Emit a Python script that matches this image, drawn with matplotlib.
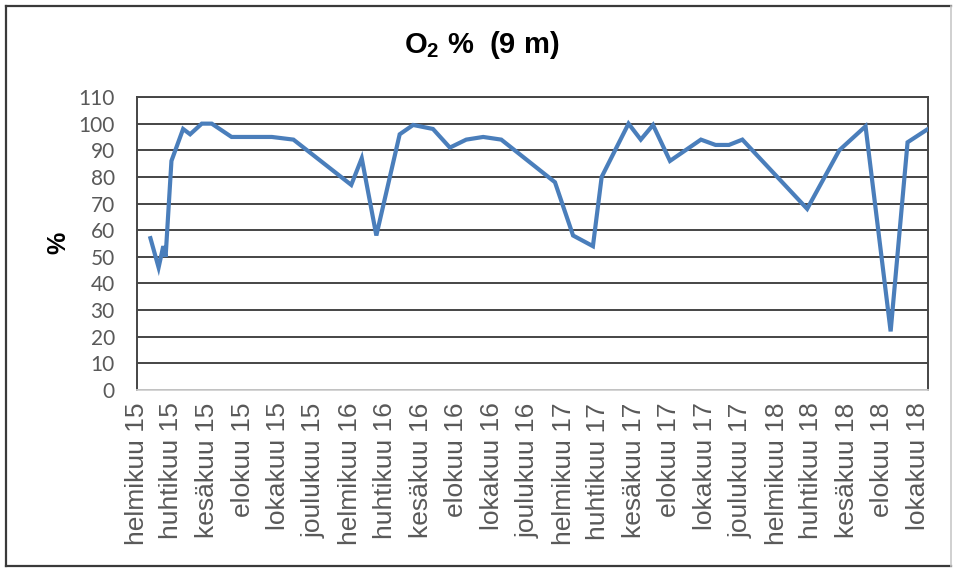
import matplotlib
matplotlib.use("Agg")
import matplotlib.pyplot as plt
import pandas as pd

plt.rcParams["mathtext.fontset"] = "custom"
plt.rcParams["mathtext.bf"] = "Liberation Sans:bold"
plt.rcParams["mathtext.rm"] = "Liberation Sans:bold"
plt.rcParams["mathtext.default"] = "bf"

# Oxygen saturation at 9 m depth
sample_dates = [
    "2015-02-24", "2015-03-10", "2015-03-18", "2015-03-22", "2015-04-01",
    "2015-04-21", "2015-05-03", "2015-05-23", "2015-06-09", "2015-07-13",
    "2015-09-20", "2015-10-27", "2016-02-03", "2016-02-21", "2016-03-17",
    "2016-04-26", "2016-05-19", "2016-06-22", "2016-07-21", "2016-08-18",
    "2016-09-16", "2016-10-17", "2017-01-17", "2017-02-17", "2017-03-23",
    "2017-04-07", "2017-04-30", "2017-05-23", "2017-06-13", "2017-07-04",
    "2017-08-02", "2017-09-24", "2017-10-19", "2017-11-11", "2017-12-04",
    "2018-03-25", "2018-05-19", "2018-07-03", "2018-08-15", "2018-09-13",
    "2018-10-18",
]
o2_percent = [
    57, 46, 54, 50, 86,
    98, 96, 100, 100, 95,
    95, 94, 77, 87, 58,
    96, 99.5, 98, 91, 94,
    95, 94, 78, 58, 54,
    80, 90, 100, 94, 99.5,
    86, 94, 92, 92, 94,
    68, 90, 99, 22, 93,
    98,
]

tick_dates = pd.date_range("2015-02-01", "2018-10-01", freq="2MS")
tick_labels = [
    "helmikuu 15", "huhtikuu 15", "kesäkuu 15", "elokuu 15", "lokakuu 15", "joulukuu 15",
    "helmikuu 16", "huhtikuu 16", "kesäkuu 16", "elokuu 16", "lokakuu 16", "joulukuu 16",
    "helmikuu 17", "huhtikuu 17", "kesäkuu 17", "elokuu 17", "lokakuu 17", "joulukuu 17",
    "helmikuu 18", "huhtikuu 18", "kesäkuu 18", "elokuu 18", "lokakuu 18",
]
y_ticks = list(range(0, 111, 10))

W, H = 956, 569
fig = plt.figure(figsize=(W / 100, H / 100), dpi=100)
fig.patch.set_facecolor("white")

# outer chart frame
frame_dark = "#3a3a3a"
for xs, ys, c, w in [
    ([6, 6], [6, 566], frame_dark, 1.6),
    ([6, 951], [6, 6], frame_dark, 1.6),
    ([6, 951], [566, 566], frame_dark, 1.6),
    ([951, 951], [6, 566], "#c8c8c8", 1.2),
]:
    fig.add_artist(plt.Line2D([v / W for v in xs], [1 - v / H for v in ys],
                              color=c, lw=w, transform=fig.transFigure))

left, right, top, bottom = 137, 928, 97, 390
ax = fig.add_axes([left / W, 1 - bottom / H, (right - left) / W, (bottom - top) / H])

x = pd.to_datetime(sample_dates)
ax.plot(x, o2_percent, color="#4a7ebb", lw=3.0, solid_joinstyle="miter", zorder=3)

ax.set_ylim(0, 110)
ax.set_yticks(y_ticks)
ax.set_xlim(pd.Timestamp("2015-02-01"), x[-1])
ax.set_xticks(tick_dates)
ax.set_xticklabels(tick_labels, rotation=90, fontsize=19, color="#595959",
                   family="Liberation Sans")
ax.tick_params(axis="x", length=0, pad=9)
ax.tick_params(axis="y", length=0, pad=16, labelsize=15, labelcolor="#595959")
for lab in ax.get_yticklabels():
    lab.set_family("Lato")

ax.yaxis.grid(True, color="#454545", lw=1.4, zorder=1)
ax.set_axisbelow(True)
for side in ["left", "right", "top"]:
    ax.spines[side].set_color("#454545")
    ax.spines[side].set_linewidth(1.4)
ax.spines["bottom"].set_color("#d0d0d0")
ax.spines["bottom"].set_linewidth(1.3)

fig.text(482 / W, 1 - 45 / H, r"O$_2$ %  (9 m)", ha="center", va="center",
         fontsize=21, fontweight="bold", family="Liberation Sans", color="black")
fig.text(58 / W, 1 - 243 / H, "%", rotation=90, ha="center", va="center",
         fontsize=18, fontweight="bold", family="Liberation Sans", color="black")

fig.savefig("out.png", dpi=100)
